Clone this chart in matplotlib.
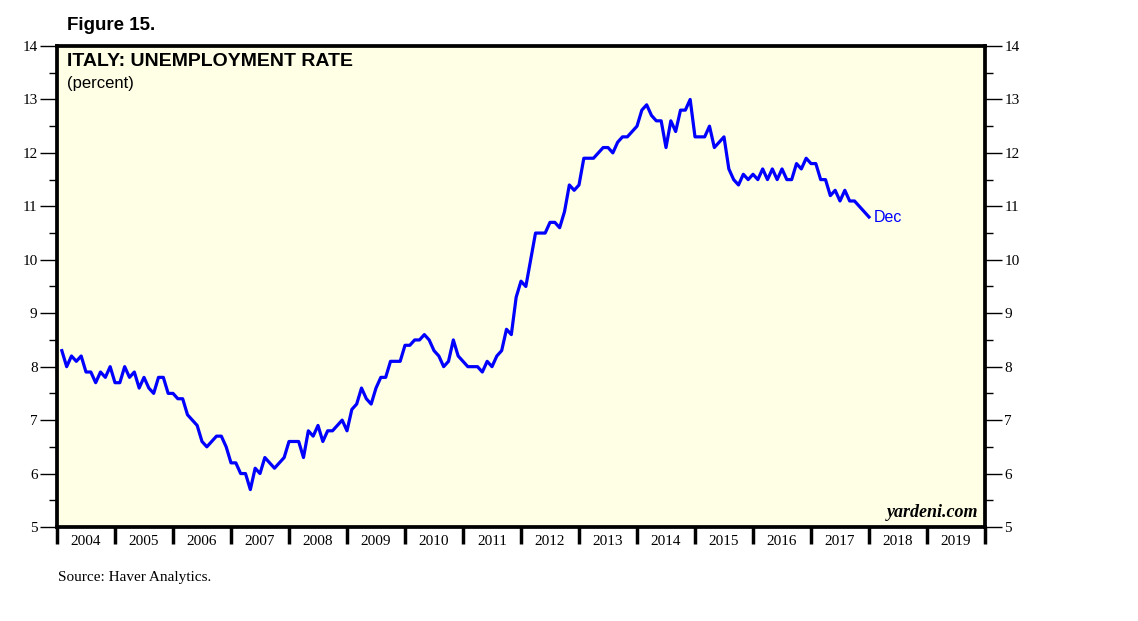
import numpy as np
import matplotlib
matplotlib.use("Agg")
import matplotlib.pyplot as plt
from matplotlib.ticker import MultipleLocator, FixedLocator

# Monthly unemployment rate, Jan 2004 - Dec 2017
rate_2004 = [8.3, 8.0, 8.2, 8.1, 8.2, 7.9, 7.9, 7.7, 7.9, 7.8, 8.0, 7.7]
rate_2005 = [7.7, 8.0, 7.8, 7.9, 7.6, 7.8, 7.6, 7.5, 7.8, 7.8, 7.5, 7.5]
rate_2006 = [7.4, 7.4, 7.1, 7.0, 6.9, 6.6, 6.5, 6.6, 6.7, 6.7, 6.5, 6.2]
rate_2007 = [6.2, 6.0, 6.0, 5.7, 6.1, 6.0, 6.3, 6.2, 6.1, 6.2, 6.3, 6.6]
rate_2008 = [6.6, 6.6, 6.3, 6.8, 6.7, 6.9, 6.6, 6.8, 6.8, 6.9, 7.0, 6.8]
rate_2009 = [7.2, 7.3, 7.6, 7.4, 7.3, 7.6, 7.8, 7.8, 8.1, 8.1, 8.1, 8.4]
rate_2010 = [8.4, 8.5, 8.5, 8.6, 8.5, 8.3, 8.2, 8.0, 8.1, 8.5, 8.2, 8.1]
rate_2011 = [8.0, 8.0, 8.0, 7.9, 8.1, 8.0, 8.2, 8.3, 8.7, 8.6, 9.3, 9.6]
rate_2012 = [9.5, 10.0, 10.5, 10.5, 10.5, 10.7, 10.7, 10.6, 10.9, 11.4, 11.3, 11.4]
rate_2013 = [11.9, 11.9, 11.9, 12.0, 12.1, 12.1, 12.0, 12.2, 12.3, 12.3, 12.4, 12.5]
rate_2014 = [12.8, 12.9, 12.7, 12.6, 12.6, 12.1, 12.6, 12.4, 12.8, 12.8, 13.0, 12.3]
rate_2015 = [12.3, 12.3, 12.5, 12.1, 12.2, 12.3, 11.7, 11.5, 11.4, 11.6, 11.5, 11.6]
rate_2016 = [11.5, 11.7, 11.5, 11.7, 11.5, 11.7, 11.5, 11.5, 11.8, 11.7, 11.9, 11.8]
rate_2017 = [11.8, 11.5, 11.5, 11.2, 11.3, 11.1, 11.3, 11.1, 11.1, 11.0, 10.9, 10.8]

rate = (rate_2004 + rate_2005 + rate_2006 + rate_2007 + rate_2008 + rate_2009
        + rate_2010 + rate_2011 + rate_2012 + rate_2013 + rate_2014 + rate_2015
        + rate_2016 + rate_2017)
start_year = 2004
dates = start_year + (np.arange(len(rate)) + 1) / 12.0

years = list(range(2004, 2020))

serif = "Liberation Serif"
sans = "Liberation Sans"

fig = plt.figure(figsize=(11.38, 6.21), dpi=100)
ax = fig.add_axes([57 / 1138, 1 - 527 / 621, (985 - 57) / 1138, (527 - 46) / 621])
ax.set_facecolor("#FFFFE6")

ax.plot(dates, rate, color="#0000FF", lw=2.3)
ax.text(dates[-1] + 0.08, rate[-1], "Dec", color="#0000FF", fontsize=11.5,
        family=sans, va="center", ha="left")

ax.set_xlim(2004, 2020)
ax.set_ylim(5, 14)

# x axis: ticks at year boundaries, labels centred in between
ax.xaxis.set_major_locator(FixedLocator(list(range(2004, 2021))))
ax.xaxis.set_minor_locator(FixedLocator([y + 0.5 for y in years]))
ax.set_xticklabels([])
ax.set_xticklabels([str(y) for y in years], minor=True)
ax.tick_params(axis="x", which="major", direction="out", length=12, width=2.5)
ax.tick_params(axis="x", which="minor", length=0, pad=6, labelsize=11)

ax.yaxis.set_major_locator(MultipleLocator(1))
ax.yaxis.set_minor_locator(MultipleLocator(0.5))
ax.tick_params(axis="y", which="both", left=True, right=True,
               labelleft=True, labelright=True, direction="out", width=1)
ax.tick_params(axis="y", which="major", length=12, pad=2, labelsize=11)
ax.tick_params(axis="y", which="minor", length=6)

for lab in (ax.get_xticklabels(minor=True) + ax.yaxis.get_majorticklabels()
            + ax.yaxis.get_ticklabels(which="major")):
    lab.set_fontfamily(serif)
for t in ax.yaxis.get_major_ticks():
    t.label1.set_fontfamily(serif)
    t.label2.set_fontfamily(serif)

for s in ax.spines.values():
    s.set_linewidth(2.7)

ax.text(0.011, 0.985, "ITALY: UNEMPLOYMENT RATE", transform=ax.transAxes,
        fontsize=14, fontweight="bold", family=sans, va="top", ha="left")
ax.text(0.011, 0.938, "(percent)", transform=ax.transAxes,
        fontsize=12, family=sans, va="top", ha="left")
ax.text(0.993, 0.012, "yardeni.com", transform=ax.transAxes,
        fontsize=13, fontstyle="italic", fontweight="bold", family=serif,
        va="bottom", ha="right")

fig.text(67 / 1138, 1 - 26 / 621, "Figure 15.", fontsize=13.5, fontweight="bold",
         family=sans, va="center", ha="left")
fig.text(58 / 1138, 1 - 577 / 621, "Source: Haver Analytics.", fontsize=11,
         family=serif, va="center", ha="left")

fig.savefig("out.png", dpi=100)
